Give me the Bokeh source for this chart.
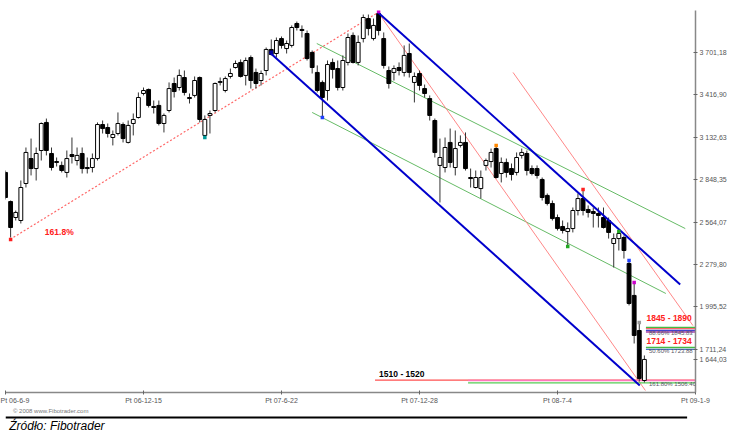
from bokeh.plotting import figure
from bokeh.models import Range1d, FixedTicker, Label
from bokeh.layouts import column
from bokeh.embed import file_html
from bokeh.resources import INLINE

# ---- weekly OHLC (index 0 = Pt 06-6-9) ----
opens = [2897, 2702, 2595, 2575, 2823, 2990, 2923, 3044, 3232, 3024,
         2970, 2944, 2897, 3017, 2977, 3024, 2930, 2930, 2990, 3218,
         3198, 3131, 3158, 3218, 3098, 3225, 3265, 3426, 3453, 3339,
         3346, 3225, 3312, 3493, 3466, 3533, 3399, 3413, 3533, 3145,
         3279, 3312, 3500, 3446, 3540, 3600, 3634, 3547, 3667, 3567,
         3513, 3580, 3721, 3694, 3794, 3727, 3748, 3895, 3855, 3828,
         3701, 3567, 3500, 3446, 3634, 3593, 3466, 3634, 3815, 3634,
         3794, 3928, 3794, 3962, 3794, 3580, 3567, 3600, 3567, 3694,
         3500, 3560, 3459, 3392, 3245, 2944, 2930, 3098, 2930, 3078,
         3098, 2863, 2796, 2789, 2944, 2970, 3057, 2890, 2964, 2923,
         2897, 3011, 3024, 2923, 2923, 2850, 2743, 2689, 2595, 2535,
         2501, 2521, 2642, 2722, 2649, 2635, 2622, 2595, 2575, 2421,
         2454, 2461, 2287, 2073, 1838, 1503]
highs = [2910, 2709, 2642, 2843, 3064, 3124, 3064, 3232, 3258, 3064,
         2997, 2970, 3044, 3131, 3064, 3064, 2997, 3024, 3232, 3245,
         3225, 3178, 3299, 3232, 3245, 3292, 3433, 3466, 3459, 3379,
         3379, 3292, 3500, 3533, 3587, 3580, 3426, 3540, 3540, 3279,
         3312, 3500, 3533, 3540, 3593, 3647, 3654, 3667, 3681, 3593,
         3580, 3734, 3788, 3801, 3808, 3781, 3882, 3908, 3882, 3848,
         3714, 3614, 3513, 3647, 3660, 3647, 3681, 3828, 3835, 3815,
         3955, 3955, 3928, 3975, 3835, 3607, 3614, 3634, 3748, 3761,
         3567, 3580, 3486, 3413, 3258, 3124, 3131, 3191, 3178, 3145,
         3165, 2923, 2910, 2910, 2990, 3057, 3071, 2997, 2990, 2957,
         3031, 3057, 3044, 2944, 2944, 2863, 2756, 2709, 2615, 2575,
         2562, 2662, 2756, 2776, 2676, 2662, 2662, 2662, 2595, 2488,
         2501, 2475, 2300, 2153, 1892, 1671]
lows = [2716, 2461, 2575, 2555, 2796, 2877, 2843, 2977, 3011, 2910,
        2937, 2897, 2863, 2957, 2944, 2890, 2890, 2897, 2977, 3158,
        3131, 3078, 3145, 3098, 3091, 3145, 3258, 3413, 3332, 3292,
        3212, 3165, 3299, 3399, 3446, 3413, 3359, 3399, 3232, 3131,
        3158, 3299, 3480, 3433, 3526, 3593, 3533, 3480, 3459, 3459,
        3480, 3547, 3681, 3667, 3727, 3694, 3734, 3848, 3801, 3647,
        3560, 3433, 3265, 3379, 3526, 3446, 3446, 3614, 3627, 3614,
        3768, 3815, 3781, 3815, 3593, 3459, 3513, 3547, 3540, 3533,
        3366, 3446, 3399, 3245, 2997, 2696, 2897, 2930, 2877, 3064,
        2910, 2796, 2789, 2722, 2910, 2930, 2856, 2830, 2863, 2843,
        2877, 2990, 2877, 2877, 2856, 2709, 2676, 2575, 2508, 2488,
        2408, 2495, 2609, 2609, 2595, 2528, 2528, 2521, 2454, 2260,
        2374, 2320, 2006, 1751, 1496, 1490]
closes = [2729, 2528, 2629, 2796, 3031, 2923, 3024, 3225, 3044, 2930,
          2964, 2910, 2990, 3004, 3011, 2923, 2923, 2990, 3218, 3191,
          3158, 3151, 3225, 3124, 3212, 3252, 3399, 3446, 3346, 3332,
          3225, 3279, 3459, 3439, 3547, 3433, 3392, 3513, 3252, 3252,
          3292, 3493, 3506, 3526, 3560, 3627, 3540, 3647, 3513, 3493,
          3560, 3721, 3687, 3781, 3748, 3761, 3868, 3868, 3848, 3660,
          3600, 3446, 3399, 3620, 3587, 3466, 3647, 3801, 3634, 3768,
          3935, 3861, 3882, 3848, 3614, 3493, 3593, 3580, 3681, 3567,
          3540, 3480, 3426, 3279, 3031, 2997, 3064, 2964, 3057, 3098,
          2923, 2856, 2863, 2863, 2977, 3031, 2863, 2964, 2897, 2883,
          2997, 3031, 2910, 2890, 2877, 2729, 2689, 2588, 2521, 2508,
          2521, 2642, 2722, 2642, 2629, 2622, 2609, 2528, 2495, 2454,
          2488, 2374, 2019, 1805, 1516, 1644.03]

# ---- axes ----
xtick_pos = [0, 27, 54, 81, 108, 135]
xtick_labels = ["Pt 06-6-9", "Pt 06-12-15", "Pt 07-6-22", "Pt 07-12-28", "Pt 08-7-4", "Pt 09-1-9"]
ytick_vals = [1644.03, 1711.24, 1995.52, 2279.80, 2564.07, 2848.35, 3132.63, 3416.90, 3701.18]
ytick_labels = ["1 644,03", "1 711,24", "1 995,52", "2 279,80", "2 564,07", "2 848,35", "3 132,63", "3 416,90", "3 701,18"]

# ---- swing points ----
pivot_x = [1, 39, 52, 62, 73, 96, 110, 113, 120, 122, 123, 124]
pivot_y = [2448, 3131, 3702, 3265, 3975, 3078, 2401, 2783, 2501, 2307, 2160, 1892]
pivot_c = ["#ff2020", "#009999", "#000099", "#2040ff", "#cc00cc", "#ff8800",
           "#22aa22", "#ff2020", "#22aa22", "#2040ff", "#cc00cc", "#999999"]

# ---- trend lines (x in weeks, y in price) ----
fan_x, fan_y = [0.9, 72.9], [2448, 3969]
blue_a_x, blue_a_y = [51.7, 124.1], [3701, 1470]
blue_b_x, blue_b_y = [72.9, 132.0], [3969, 2146]
green_a_x, green_a_y = [60.9, 133.0], [3761, 2521]
green_b_x, green_b_y = [60.0, 129.2], [3299, 2086]
red_a_x, red_a_y = [72.9, 125.2], [3969, 1436]
red_b_x, red_b_y = [99.3, 134.5], [3567, 1871]

# ---- target zones ----
zones = [(1845, 1890), (1714, 1734), (1510, 1520)]
zone_colors = ["#ff2020", "#ff2020", "#000000"]
fib_levels = [1858, 1851, 1838, 1828, 1724, 1711, 1506, 1503, 1487]
fib_colors = ["#44bb44", "#ff6666", "#4444cc", "#aa44aa", "#44bb44", "#4477cc", "#ff5050", "#ff77bb", "#55cc55"]
fib_start = [125.3, 125.3, 125.3, 125.3, 125.3, 125.3, 72.3, 90.5, 90.5]
fib_texts = ["88.66% 1845.83", "50.60% 1723.88", "161.80% 1506.40"]
fib_text_y = [1822, 1700, 1480]

p = figure(width=740, height=406, x_range=Range1d(0, 135), y_range=Range1d(1422.6, 3982),
           output_backend="svg", toolbar_location=None, y_axis_location="right",
           min_border_left=5, min_border_right=45, min_border_top=10, min_border_bottom=14)
p.grid.visible = False
p.outline_line_color = None

# axes styling
p.xaxis.ticker = FixedTicker(ticks=xtick_pos)
p.xaxis.major_label_overrides = {t: l for t, l in zip(xtick_pos, xtick_labels)}
p.yaxis.ticker = FixedTicker(ticks=ytick_vals)
p.yaxis.major_label_overrides = {t: l for t, l in zip(ytick_vals, ytick_labels)}
for ax in (p.xaxis, p.yaxis):
    ax.axis_line_color = "#888888"
    ax.axis_line_width = 1.5
    ax.major_tick_line_color = "#666666"
    ax.major_tick_in = 2
    ax.major_tick_out = 2
    ax.minor_tick_line_color = None
    ax.major_label_text_font = "Liberation Sans"
    ax.major_label_text_font_size = "7px"
    ax.major_label_text_color = "#555555"
    ax.major_label_standoff = 2

# lines below candles
p.line(fan_x, fan_y, line_color="#ff6666", line_width=1.2, line_dash="2 2")
p.line(green_a_x, green_a_y, line_color="#66bb66", line_width=1)
p.line(green_b_x, green_b_y, line_color="#66bb66", line_width=1)
p.line(red_a_x, red_a_y, line_color="#ff8888", line_width=1)
p.line(red_b_x, red_b_y, line_color="#ff8888", line_width=1)

for lvl, col, xs in zip(fib_levels, fib_colors, fib_start):
    p.line([xs, 135], [lvl, lvl], line_color=col, line_width=1.3)

# candles
idx = list(range(len(opens)))
tops = [max(o, c) for o, c in zip(opens, closes)]
bots = [min(o, c) for o, c in zip(opens, closes)]
fills = ["white" if c >= o else "black" for o, c in zip(opens, closes)]
p.segment(x0=idx, y0=lows, x1=idx, y1=highs, line_color="#333333", line_width=1)
p.vbar(x=idx, top=tops, bottom=bots, width=0.75, fill_color=fills, line_color="black", line_width=1)

# blue channel
p.line(blue_a_x, blue_a_y, line_color="#0000cc", line_width=2)
p.line(blue_b_x, blue_b_y, line_color="#0000cc", line_width=2)

# pivot dots
p.scatter(pivot_x, pivot_y, marker="square", size=3.5, fill_color=pivot_c, line_color=None)

# labels
p.add_layout(Label(x=7.7, y=2501, text="161.8%", text_color="#ff2020", text_font="Liberation Sans",
                   text_font_style="bold", text_font_size="8.5px", text_baseline="middle"))
zone_x = [125.4, 125.4, 73.1]
zone_y = [1890, 1734, 1512]
for (lo, hi), col, zx, zy in zip(zones, zone_colors, zone_x, zone_y):
    p.add_layout(Label(x=zx, y=zy, text=f"{lo} - {hi}", text_color=col, text_font="Liberation Sans",
                       text_font_style="bold", text_font_size="8.5px", text_baseline="bottom"))
for t, ty in zip(fib_texts, fib_text_y):
    p.add_layout(Label(x=125.9, y=ty, text=t, text_color="#556", text_font="Liberation Sans",
                       text_font_size="6px", text_baseline="middle"))

# footer
f = figure(width=740, height=28, x_range=Range1d(0, 740), y_range=Range1d(28, 0),
           output_backend="svg", toolbar_location=None, min_border=0,
           x_axis_location=None, y_axis_location=None)
f.grid.visible = False
f.outline_line_color = None
f.add_layout(Label(x=8, y=4, text="\u00a9 2008 www.Fibotrader.com", text_color="#777777",
                   text_font="Liberation Sans", text_font_size="6px", text_baseline="middle"))
f.segment(x0=[0], y0=[11], x1=[731], y1=[11], line_color="black", line_width=2)
f.add_layout(Label(x=4, y=12, text="Źródło: Fibotrader", text_color="black",
                   text_font="Liberation Sans", text_font_style="italic",
                   text_font_size="12px", text_baseline="top"))

layout = column(p, f, spacing=0)
open("out.html", "w").write(file_html(layout, INLINE))
